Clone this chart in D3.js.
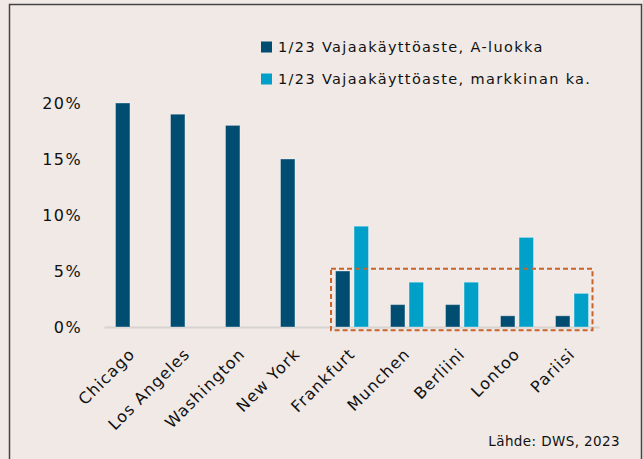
<!DOCTYPE html>
<meta charset="utf-8">
<script src="https://cdnjs.cloudflare.com/ajax/libs/d3/7.8.5/d3.min.js"></script>
<style>
  body { margin: 0; background: #f0e9e6; }
  text { font-family: "DejaVu Sans", sans-serif; fill: #111; }
</style>
<div id="my_dataviz"></div>
<script>

    // data
    const cities = ["Chicago", "Los Angeles", "Washington", "New York", "Frankfurt", "Munchen", "Berliini", "Lontoo", "Pariisi"]
    const seriesNames = ["1/23 Vajaakäyttöaste, A-luokka", "1/23 Vajaakäyttöaste, markkinan ka."]
    const classA = [20, 19, 18, 15, 5, 2, 2, 1, 1]
    const marketAvg = [null, null, null, null, 9, 4, 4, 8, 3]
    const yTicks = [0, 5, 10, 15, 20]
    const boxed = ["Frankfurt", "Pariisi"]
    const source = "Lähde: DWS, 2023"

    const colors = ["#004d71", "#00a0c9"]

    var width = 643, height = 459

    var svg = d3.select("#my_dataviz")
        .append("svg")
        .attr("width", width)
        .attr("height", height)

    svg.append("rect")
        .attr("x", 0).attr("y", 0)
        .attr("width", width).attr("height", height)
        .attr("fill", "#f0e9e6")

    // frame
    svg.append("path")
        .attr("d", "M9.5," + (height + 2) + "V4.5H641.5V" + (height + 2))
        .attr("fill", "none")
        .attr("stroke", "#444")
        .attr("stroke-width", 1.5)

    var x = d3.scaleBand()
        .domain(cities)
        .range([104.5, 599.5])

    var xSub = d3.scaleBand()
        .domain([0, 1])
        .range([-16.5, 16.5])
        .paddingInner(0.22)

    var y = d3.scaleLinear()
        .domain([0, 20])
        .range([327, 103])

    // y labels
    svg.append("g")
        .selectAll("text")
        .data(yTicks)
        .join("text")
        .attr("x", 82)
        .attr("y", d => y(d))
        .attr("dy", "0.36em")
        .attr("text-anchor", "end")
        .style("font-size", "16px")
        .style("letter-spacing", "1.4px")
        .text(d => d + "%")

    // baseline
    svg.append("line")
        .attr("x1", x.range()[0]).attr("x2", x.range()[1])
        .attr("y1", y(0) + 0.5).attr("y2", y(0) + 0.5)
        .attr("stroke", "#d6d3d1")
        .attr("stroke-width", 2)

    // bars
    var table = cities.map((c, i) => ({ city: c, values: [classA[i], marketAvg[i]] }))

    var groups = svg.append("g")
        .selectAll("g")
        .data(table)
        .join("g")
        .attr("transform", d => "translate(" + (x(d.city) + x.bandwidth() / 2) + ",0)")

    groups.selectAll("rect")
        .data(d => d.values.map((v, k) => ({ k: k, v: v })).filter(e => e.v != null))
        .join("rect")
        .attr("x", d => xSub(d.k))
        .attr("width", xSub.bandwidth())
        .attr("y", d => y(d.v))
        .attr("height", d => y(0) - y(d.v))
        .attr("fill", d => colors[d.k])
        .attr("stroke", "rgba(255,255,255,0.35)")
        .attr("stroke-width", 1)

    // x labels
    svg.append("g")
        .selectAll("text")
        .data(cities)
        .join("text")
        .attr("transform", d => "translate(" + (x(d) + x.bandwidth() / 2 + 4) + "," + 355 + ") rotate(-45)")
        .attr("text-anchor", "end")
        .style("font-size", "16px")
        .style("letter-spacing", "1.1px")
        .text(d => d)

    // dashed box around european cities
    var bx0 = x(boxed[0]) + 6.5, bx1 = x(boxed[1]) + x.bandwidth() - 7
    svg.append("rect")
        .attr("x", bx0)
        .attr("y", y(5.2))
        .attr("width", bx1 - bx0)
        .attr("height", y(-0.3) - y(5.2))
        .attr("fill", "none")
        .attr("stroke", "#c8642a")
        .attr("stroke-width", 2)
        .attr("stroke-dasharray", "5,3")

    // legend
    var legend = svg.append("g")
        .selectAll("g")
        .data(seriesNames)
        .join("g")
        .attr("transform", (d, i) => "translate(261," + (47 + i * 32) + ")")

    legend.append("rect")
        .attr("x", 0).attr("y", -5.5)
        .attr("width", 11).attr("height", 11)
        .attr("fill", (d, i) => colors[i])

    legend.append("text")
        .attr("x", 17)
        .attr("dy", "0.36em")
        .style("font-size", "14.5px")
        .style("letter-spacing", "1.35px")
        .text(d => d)

    // source
    svg.append("text")
        .attr("x", 620)
        .attr("y", 445.5)
        .attr("text-anchor", "end")
        .style("font-size", "13.5px")
        .style("letter-spacing", "0.4px")
        .text(source)

</script>
